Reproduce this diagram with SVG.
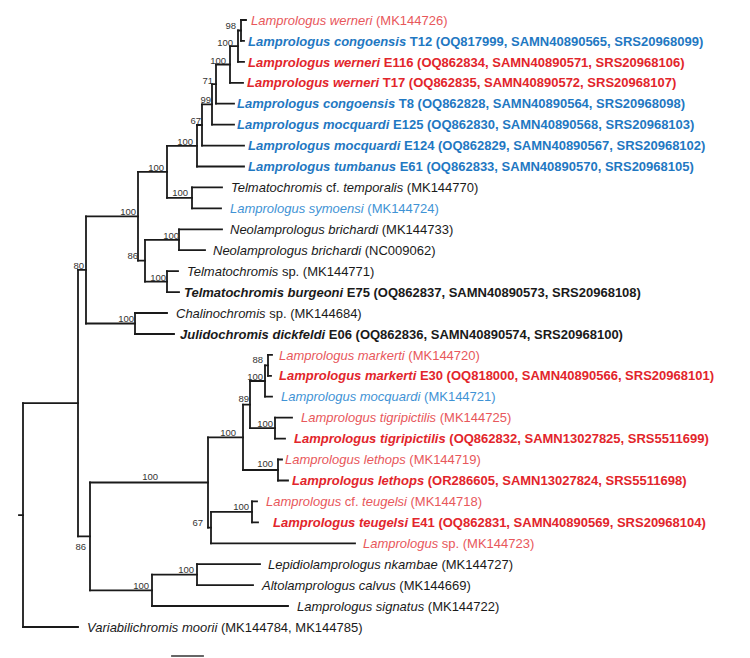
<svg xmlns="http://www.w3.org/2000/svg" width="750" height="658" viewBox="0 0 750 658">
<style>
.t{font-family:"Liberation Sans",Arial,sans-serif;font-size:13px}
.b{font-weight:bold}
.i{font-style:italic}
.red{fill:#e2252b}.redl{fill:#e8575b}.blue{fill:#1f78c2}.bluel{fill:#3f93d5}.blk{fill:#1a1a1a}
.s{font-family:"Liberation Sans",Arial,sans-serif;font-size:9.5px;fill:#333;text-anchor:end}
.br{fill:none;stroke:#1a1a1a;stroke-width:1.8;stroke-linecap:square}
</style>
<rect width="750" height="658" fill="#fff"/>
<g id="connectors" class="br">
<path d="M241 20V40.9M238 30.5V61.9M230 46.2V82.8M216 64.5V103.7M212 84.1V124.7M202 104.4V145.6M197 125V166.5M167 145.8V197.9M192 187.4V208.4M138 171.9V260.7M145 239.8V281.7M179 229.3V250.2M167 271.2V292.1M86 216.3V323.5M135 313V334M78 269.9V536.4M23 403.2V627M90 482.5V590.3M208 437.3V527.6M152 574.7V606M197 564.2V585.1M243 404.6V470M211 511.9V543.3M250 381V428.2M252 501.4V522.3M268 354.9V375.8M265 365.4V396.7M275 417.7V438.6M278 459.5V480.5"/>
<path d="M238 30.5H241M230 46.2H238M216 64.5H230M212 84.1H216M202 104.4H212M197 125H202M167 145.8H197M167 197.9H192M138 171.9H167M145 239.8H179M145 281.7H167M138 260.7H145M86 216.3H138M86 323.5H135M78 269.9H86M23 403.2H78M19 515.1H23M78 536.4H90M90 482.5H208M90 590.3H152M152 574.7H197M208 437.3H243M208 527.6H211M243 404.6H250M211 511.9H252M265 365.4H268M250 381H265M250 428.2H275M243 470H278"/>
<path d="M241 20H246M241 40.9H244M238 61.9H244M230 82.8H243M216 103.7H234M212 124.7H234M202 145.6H244M197 166.5H244M192 187.4H222M192 208.4H221M179 229.3H222M179 250.2H205M167 271.2H178M167 292.1H179M135 313H167M135 334H174M268 354.9H272M268 375.8H271M265 396.7H272M275 417.7H292M275 438.6H285M278 459.5H282M278 480.5H288M252 501.4H257M252 522.3H258M211 543.3H355M197 564.2H260M197 585.1H253M152 606H288M23 627H78"/>
<path d="M172 656H203" stroke="#666"/>
</g>
<g id="tip01"><text class="t redl" x="251" y="24.6"><tspan class="i">Lamprologus werneri</tspan> (MK144726)</text></g>
<g id="tip02"><text class="t b blue" x="248" y="45.5"><tspan class="i">Lamprologus congoensis</tspan> T12 (OQ817999, SAMN40890565, SRS20968099)</text></g>
<g id="tip03"><text class="t b red" x="248" y="66.5"><tspan class="i">Lamprologus werneri</tspan> E116 (OQ862834, SAMN40890571, SRS20968106)</text></g>
<g id="tip04"><text class="t b red" x="247" y="87.4"><tspan class="i">Lamprologus werneri</tspan> T17 (OQ862835, SAMN40890572, SRS20968107)</text></g>
<g id="tip05"><text class="t b blue" x="237" y="108.3"><tspan class="i">Lamprologus congoensis</tspan> T8 (OQ862828, SAMN40890564, SRS20968098)</text></g>
<g id="tip06"><text class="t b blue" x="237" y="129.3"><tspan class="i">Lamprologus mocquardi</tspan> E125 (OQ862830, SAMN40890568, SRS20968103)</text></g>
<g id="tip07"><text class="t b blue" x="248" y="150.2"><tspan class="i">Lamprologus mocquardi</tspan> E124 (OQ862829, SAMN40890567, SRS20968102)</text></g>
<g id="tip08"><text class="t b blue" x="248" y="171.1"><tspan class="i">Lamprologus tumbanus</tspan> E61 (OQ862833, SAMN40890570, SRS20968105)</text></g>
<g id="tip09"><text class="t blk" x="231" y="192"><tspan class="i">Telmatochromis</tspan> cf. <tspan class="i">temporalis</tspan> (MK144770)</text></g>
<g id="tip10"><text class="t bluel" x="230" y="213"><tspan class="i">Lamprologus symoensi</tspan> (MK144724)</text></g>
<g id="tip11"><text class="t blk" x="230" y="233.9"><tspan class="i">Neolamprologus brichardi</tspan> (MK144733)</text></g>
<g id="tip12"><text class="t blk" x="213" y="254.8"><tspan class="i">Neolamprologus brichardi</tspan> (NC009062)</text></g>
<g id="tip13"><text class="t blk" x="187" y="275.8"><tspan class="i">Telmatochromis</tspan> sp.  (MK144771)</text></g>
<g id="tip14"><text class="t b blk" x="184" y="296.7"><tspan class="i">Telmatochromis burgeoni</tspan> E75 (OQ862837, SAMN40890573, SRS20968108)</text></g>
<g id="tip15"><text class="t blk" x="176" y="317.6"><tspan class="i">Chalinochromis</tspan> sp. (MK144684)</text></g>
<g id="tip16"><text class="t b blk" x="180" y="338.6"><tspan class="i">Julidochromis dickfeldi</tspan> E06 (OQ862836, SAMN40890574, SRS20968100)</text></g>
<g id="tip17"><text class="t redl" x="279" y="359.5"><tspan class="i">Lamprologus markerti</tspan> (MK144720)</text></g>
<g id="tip18"><text class="t b red" x="279" y="380.4"><tspan class="i">Lamprologus markerti</tspan> E30 (OQ818000, SAMN40890566, SRS20968101)</text></g>
<g id="tip19"><text class="t bluel" x="281" y="401.3"><tspan class="i">Lamprologus mocquardi</tspan> (MK144721)</text></g>
<g id="tip20"><text class="t redl" x="301" y="422.3"><tspan class="i">Lamprologus tigripictilis</tspan> (MK144725)</text></g>
<g id="tip21"><text class="t b red" x="294" y="443.2"><tspan class="i">Lamprologus tigripictilis</tspan> (OQ862832, SAMN13027825, SRS5511699)</text></g>
<g id="tip22"><text class="t redl" x="285" y="464.1"><tspan class="i">Lamprologus lethops</tspan> (MK144719)</text></g>
<g id="tip23"><text class="t b red" x="292" y="485.1"><tspan class="i">Lamprologus lethops</tspan> (OR286605, SAMN13027824, SRS5511698)</text></g>
<g id="tip24"><text class="t redl" x="266" y="506"><tspan class="i">Lamprologus</tspan> cf. <tspan class="i">teugelsi</tspan> (MK144718)</text></g>
<g id="tip25"><text class="t b red" x="273" y="526.9"><tspan class="i">Lamprologus teugelsi</tspan> E41 (OQ862831, SAMN40890569, SRS20968104)</text></g>
<g id="tip26"><text class="t redl" x="363" y="547.9"><tspan class="i">Lamprologus</tspan> sp. (MK144723)</text></g>
<g id="tip27"><text class="t blk" x="268" y="568.8"><tspan class="i">Lepidiolamprologus nkambae</tspan> (MK144727)</text></g>
<g id="tip28"><text class="t blk" x="262" y="589.7"><tspan class="i">Altolamprologus calvus</tspan> (MK144669)</text></g>
<g id="tip29"><text class="t blk" x="297" y="610.6"><tspan class="i">Lamprologus signatus</tspan> (MK144722)</text></g>
<g id="tip30"><text class="t blk" x="87" y="631.6"><tspan class="i">Variabilichromis moorii</tspan> (MK144784, MK144785)</text></g>
<g id="n01"><text class="s" x="236" y="29">98</text></g>
<g id="n02"><text class="s" x="233" y="46">100</text></g>
<g id="n03"><text class="s" x="226" y="64">100</text></g>
<g id="n04"><text class="s" x="213" y="83.5">71</text></g>
<g id="n05"><text class="s" x="211" y="103">99</text></g>
<g id="n06"><text class="s" x="201" y="123.5">67</text></g>
<g id="n07"><text class="s" x="193" y="145">100</text></g>
<g id="n08"><text class="s" x="164" y="170.5">100</text></g>
<g id="n09"><text class="s" x="188" y="196">100</text></g>
<g id="n10"><text class="s" x="136" y="215">100</text></g>
<g id="n11"><text class="s" x="138" y="259">86</text></g>
<g id="n12"><text class="s" x="179" y="238.5">100</text></g>
<g id="n13"><text class="s" x="166" y="280.5">100</text></g>
<g id="n14"><text class="s" x="84" y="268.5">80</text></g>
<g id="n15"><text class="s" x="134" y="322">100</text></g>
<g id="n16"><text class="s" x="86" y="550">86</text></g>
<g id="n17"><text class="s" x="158" y="480">100</text></g>
<g id="n18"><text class="s" x="149" y="588.5">100</text></g>
<g id="n19"><text class="s" x="194" y="573">100</text></g>
<g id="n20"><text class="s" x="236" y="436">100</text></g>
<g id="n21"><text class="s" x="203" y="526">67</text></g>
<g id="n22"><text class="s" x="249" y="510">100</text></g>
<g id="n23"><text class="s" x="249" y="402">89</text></g>
<g id="n24"><text class="s" x="263" y="363">88</text></g>
<g id="n25"><text class="s" x="263" y="379.5">100</text></g>
<g id="n26"><text class="s" x="273" y="427">100</text></g>
<g id="n27"><text class="s" x="273" y="467">100</text></g>
</svg>
